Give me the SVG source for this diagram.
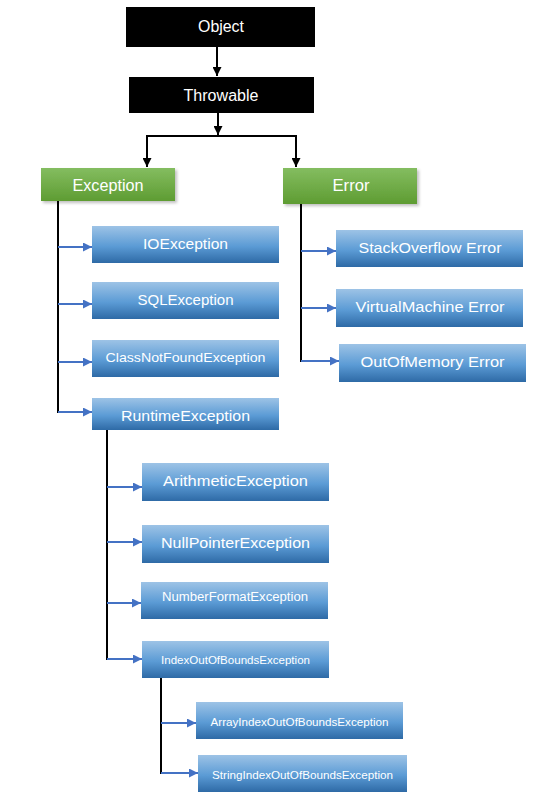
<svg xmlns="http://www.w3.org/2000/svg" width="536" height="807" viewBox="0 0 536 807">
<defs>
<linearGradient id="gBlue" x1="0" y1="0" x2="0" y2="1">
<stop offset="0" stop-color="#9dc3e6"/>
<stop offset="0.55" stop-color="#5b9bd5"/>
<stop offset="1" stop-color="#2e6aa6"/>
</linearGradient>
<linearGradient id="gGreen" x1="0" y1="0" x2="0" y2="1">
<stop offset="0" stop-color="#84bd60"/>
<stop offset="1" stop-color="#5e9c32"/>
</linearGradient>
<filter id="sh" x="-10%" y="-20%" width="130%" height="160%">
<feDropShadow dx="2" dy="2" stdDeviation="1.5" flood-color="#000" flood-opacity="0.25"/>
</filter>
<marker id="aBlack" viewBox="0 0 10 10" refX="10" refY="5" markerWidth="9" markerHeight="9" markerUnits="userSpaceOnUse" orient="auto">
<path d="M0,0 L10,5 L0,10 z" fill="#000"/>
</marker>
<marker id="aBlue" viewBox="0 0 10 10" refX="10" refY="5" markerWidth="9" markerHeight="9" markerUnits="userSpaceOnUse" orient="auto">
<path d="M0,0 L10,5 L0,10 z" fill="#4472c4"/>
</marker>
</defs>
<style>
text{font-family:"Liberation Sans","Open Sans",Arial,sans-serif;fill:#fff;text-anchor:middle;dominant-baseline:central}
.blk{fill:#000}
.grn{fill:url(#gGreen);filter:url(#sh)}
.blu{fill:url(#gBlue)}
.cb{stroke:#000;stroke-width:2;fill:none}
.cbl{stroke:#4472c4;stroke-width:2;fill:none}
</style>
<rect width="536" height="807" fill="#fff"/>

<g id="connectors">
<line class="cb" x1="217" y1="47" x2="217" y2="76" marker-end="url(#aBlack)"/>
<line class="cb" x1="218" y1="113" x2="218" y2="135" marker-end="url(#aBlack)"/>
<polyline class="cb" points="147,167 147,136 296,136 296,167"/>
<line class="cb" x1="147" y1="140" x2="147" y2="167" marker-end="url(#aBlack)"/>
<line class="cb" x1="296" y1="140" x2="296" y2="167" marker-end="url(#aBlack)"/>
<line class="cb" x1="58" y1="201" x2="58" y2="413"/>
<line class="cbl" x1="58" y1="247" x2="92" y2="247" marker-end="url(#aBlue)"/>
<line class="cbl" x1="58" y1="304" x2="92" y2="304" marker-end="url(#aBlue)"/>
<line class="cbl" x1="58" y1="362" x2="92" y2="362" marker-end="url(#aBlue)"/>
<line class="cbl" x1="58" y1="412" x2="92" y2="412" marker-end="url(#aBlue)"/>
<line class="cb" x1="301" y1="204" x2="301" y2="362"/>
<line class="cbl" x1="301" y1="251" x2="336" y2="251" marker-end="url(#aBlue)"/>
<line class="cbl" x1="301" y1="308" x2="336" y2="308" marker-end="url(#aBlue)"/>
<line class="cbl" x1="301" y1="361" x2="339" y2="361" marker-end="url(#aBlue)"/>
<line class="cb" x1="107" y1="430" x2="107" y2="660"/>
<line class="cbl" x1="107" y1="487" x2="142" y2="487" marker-end="url(#aBlue)"/>
<line class="cbl" x1="107" y1="542" x2="142" y2="542" marker-end="url(#aBlue)"/>
<line class="cbl" x1="107" y1="603" x2="141" y2="603" marker-end="url(#aBlue)"/>
<line class="cbl" x1="107" y1="659" x2="142" y2="659" marker-end="url(#aBlue)"/>
<line class="cb" x1="161" y1="678" x2="161" y2="774"/>
<line class="cbl" x1="161" y1="723" x2="196" y2="723" marker-end="url(#aBlue)"/>
<line class="cbl" x1="161" y1="773" x2="198" y2="773" marker-end="url(#aBlue)"/>
</g>

<g id="object"><rect class="blk" x="126" y="7" width="189" height="40"/><text x="221" y="26" font-size="16" textLength="46" lengthAdjust="spacingAndGlyphs">Object</text></g>
<g id="throwable"><rect class="blk" x="129" y="77" width="185" height="36"/><text x="221" y="95" font-size="16" textLength="75" lengthAdjust="spacingAndGlyphs">Throwable</text></g>
<g id="exception"><rect class="grn" x="41" y="168" width="134" height="33"/><text x="108" y="185" font-size="16" textLength="71" lengthAdjust="spacingAndGlyphs">Exception</text></g>
<g id="error"><rect class="grn" x="283" y="168" width="134" height="36"/><text x="351" y="185" font-size="16" textLength="37" lengthAdjust="spacingAndGlyphs">Error</text></g>

<g id="ioexception"><rect class="blu" x="92" y="226" width="187" height="37"/><text x="185.5" y="243.5" font-size="15" textLength="85" lengthAdjust="spacingAndGlyphs">IOException</text></g>
<g id="sqlexception"><rect class="blu" x="92" y="282" width="187" height="37"/><text x="185.5" y="299.5" font-size="15" textLength="96" lengthAdjust="spacingAndGlyphs">SQLException</text></g>
<g id="classnotfoundexception"><rect class="blu" x="92" y="340" width="187" height="37"/><text x="185.5" y="357" font-size="13" textLength="160" lengthAdjust="spacingAndGlyphs">ClassNotFoundException</text></g>
<g id="runtimeexception"><rect class="blu" x="92" y="398" width="187" height="32"/><text x="185.5" y="415" font-size="15" textLength="129" lengthAdjust="spacingAndGlyphs">RuntimeException</text></g>

<g id="stackoverflowerror"><rect class="blu" x="336" y="230" width="187" height="37"/><text x="430" y="247.5" font-size="15" textLength="143" lengthAdjust="spacingAndGlyphs">StackOverflow Error</text></g>
<g id="virtualmachineerror"><rect class="blu" x="336" y="289" width="187" height="38"/><text x="430" y="306.5" font-size="15" textLength="149" lengthAdjust="spacingAndGlyphs">VirtualMachine Error</text></g>
<g id="outofmemoryerror"><rect class="blu" x="339" y="344" width="187" height="38"/><text x="432.5" y="361.5" font-size="15" textLength="144" lengthAdjust="spacingAndGlyphs">OutOfMemory Error</text></g>

<g id="arithmeticexception"><rect class="blu" x="142" y="463" width="187" height="38"/><text x="235.5" y="480.5" font-size="15" textLength="145" lengthAdjust="spacingAndGlyphs">ArithmeticException</text></g>
<g id="nullpointerexception"><rect class="blu" x="142" y="525" width="187" height="38"/><text x="235.5" y="542.5" font-size="15" textLength="149" lengthAdjust="spacingAndGlyphs">NullPointerException</text></g>
<g id="numberformatexception"><rect class="blu" x="141" y="582" width="187" height="37"/><text x="235" y="596.5" font-size="12" textLength="146" lengthAdjust="spacingAndGlyphs">NumberFormatException</text></g>
<g id="indexoutofboundsexception"><rect class="blu" x="142" y="641" width="187" height="37"/><text x="235.5" y="660" font-size="11" textLength="149" lengthAdjust="spacingAndGlyphs">IndexOutOfBoundsException</text></g>

<g id="arrayindexoutofboundsexception"><rect class="blu" x="196" y="702" width="207" height="37"/><text x="299.5" y="722" font-size="11" textLength="178" lengthAdjust="spacingAndGlyphs">ArrayIndexOutOfBoundsException</text></g>
<g id="stringindexoutofboundsexception"><rect class="blu" x="198" y="755" width="209" height="37"/><text x="302.5" y="775" font-size="11" textLength="181" lengthAdjust="spacingAndGlyphs">StringIndexOutOfBoundsException</text></g>
</svg>
